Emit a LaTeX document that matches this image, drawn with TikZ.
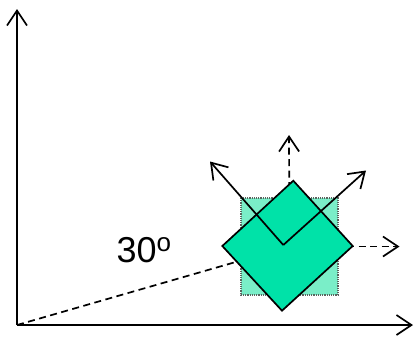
\documentclass[tikz,border=0pt]{standalone}
\usepackage{fontspec}
\setmainfont{Liberation Sans}
\usetikzlibrary{arrows.meta}
\definecolor{dia}{RGB}{0,226,168}
\definecolor{sq}{RGB}{122,238,200}
\definecolor{sqb}{RGB}{90,100,95}
\tikzset{
  ax/.style={line width=1.7pt, -{Straight Barb[length=15pt,width=20pt,line width=1.7pt]}},
  dsh/.style={line width=1.7pt, dash pattern=on 7pt off 4.5pt},
  dar/.style={dsh, -{Straight Barb[length=15pt,width=20pt,line width=1.7pt]}},
  sar/.style={line width=1.7pt, -{Straight Barb[length=15pt,width=20pt,line width=1.7pt]}},
}
\begin{document}
\begin{tikzpicture}[x=1pt,y=-1pt]
\useasboundingbox (0,0) rectangle (414,341);
\coordinate (O) at (17,325);
\coordinate (Y) at (17,9);
\coordinate (X) at (413,325);
\coordinate (C) at (289.5,246.5);
\coordinate (V) at (283.3,245);
\coordinate (up) at (289,135);
\coordinate (rt) at (399.5,246.5);
\coordinate (ul) at (210,161.5);
\coordinate (ur) at (366,170.5);
\draw[ax] (O) -- (Y);
\draw[ax] (O) -- (X);
\draw[dsh] (O) -- (C);
\draw[dar] (C) -- (up);
\draw[dar] (C) -- (rt);
\draw[fill=sq, draw=sqb, line width=1.2pt, densely dotted] (241,198) rectangle (338,295);
\draw[fill=dia, line width=1.7pt, line join=miter] (293.3,180.7) -- (352.7,246) -- (282,310.7) -- (222.3,246) -- cycle;
\draw[sar] (V) -- (ul);
\draw[sar] (V) -- (ur);
\node[anchor=base west, inner sep=0pt, font=\fontsize{36}{36}\selectfont] (lbl) at (116.5,262) {30\raisebox{10.5pt}{\fontsize{26}{26}\selectfont o}};
\end{tikzpicture}
\end{document}
